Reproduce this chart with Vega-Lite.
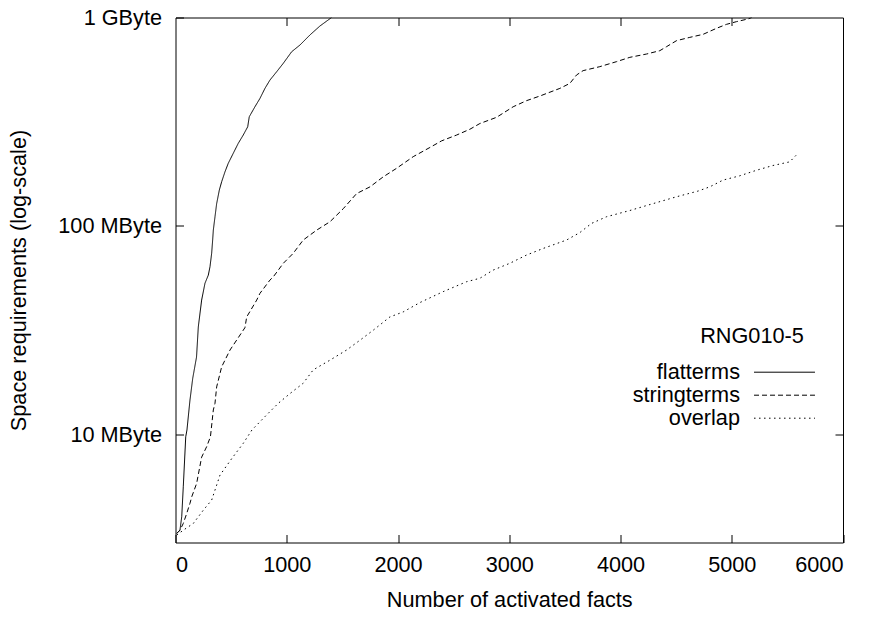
{
  "$schema": "https://vega.github.io/schema/vega-lite/v6.json",
  "width": 667.5,
  "height": 525,
  "autosize": {"type": "none"},
  "padding": {"left": 175.5, "top": 17.5, "right": 31, "bottom": 74.5},
  "background": "white",
  "config": {
    "view": {"stroke": "black", "strokeWidth": 1},
    "font": "Liberation Sans",
    "axis": {
      "domain": false, "grid": false, "tickColor": "black", "tickSize": -8, "tickWidth": 1,
      "labelFont": "Liberation Sans", "labelFontSize": 21.7, "labelColor": "black",
      "titleFont": "Liberation Sans", "titleFontSize": 21.7, "titleColor": "black", "titleFontWeight": "normal"
    }
  },
  "data": {"values": [
    {"facts": 11, "mb": 3.35, "series": "flatterms"},
    {"facts": 40, "mb": 3.47, "series": "flatterms"},
    {"facts": 56, "mb": 4.03, "series": "flatterms"},
    {"facts": 70, "mb": 5.61, "series": "flatterms"},
    {"facts": 92, "mb": 9.74, "series": "flatterms"},
    {"facts": 103, "mb": 10.5, "series": "flatterms"},
    {"facts": 130, "mb": 14.6, "series": "flatterms"},
    {"facts": 155, "mb": 18.6, "series": "flatterms"},
    {"facts": 189, "mb": 23.5, "series": "flatterms"},
    {"facts": 205, "mb": 32.8, "series": "flatterms"},
    {"facts": 235, "mb": 44.1, "series": "flatterms"},
    {"facts": 265, "mb": 53.1, "series": "flatterms"},
    {"facts": 295, "mb": 58.1, "series": "flatterms"},
    {"facts": 310, "mb": 63.7, "series": "flatterms"},
    {"facts": 325, "mb": 73.9, "series": "flatterms"},
    {"facts": 334, "mb": 85.6, "series": "flatterms"},
    {"facts": 340, "mb": 95.5, "series": "flatterms"},
    {"facts": 355, "mb": 110.7, "series": "flatterms"},
    {"facts": 370, "mb": 128, "series": "flatterms"},
    {"facts": 394, "mb": 148.7, "series": "flatterms"},
    {"facts": 415, "mb": 163, "series": "flatterms"},
    {"facts": 445, "mb": 182, "series": "flatterms"},
    {"facts": 474, "mb": 199.6, "series": "flatterms"},
    {"facts": 519, "mb": 223, "series": "flatterms"},
    {"facts": 564, "mb": 249, "series": "flatterms"},
    {"facts": 609, "mb": 273, "series": "flatterms"},
    {"facts": 649, "mb": 299, "series": "flatterms"},
    {"facts": 663, "mb": 334, "series": "flatterms"},
    {"facts": 714, "mb": 373, "series": "flatterms"},
    {"facts": 759, "mb": 409, "series": "flatterms"},
    {"facts": 804, "mb": 457, "series": "flatterms"},
    {"facts": 849, "mb": 501, "series": "flatterms"},
    {"facts": 909, "mb": 549, "series": "flatterms"},
    {"facts": 969, "mb": 603, "series": "flatterms"},
    {"facts": 1044, "mb": 685, "series": "flatterms"},
    {"facts": 1119, "mb": 738, "series": "flatterms"},
    {"facts": 1208, "mb": 824, "series": "flatterms"},
    {"facts": 1298, "mb": 910, "series": "flatterms"},
    {"facts": 1403, "mb": 1000, "series": "flatterms"},

    {"facts": 11, "mb": 3.35, "series": "stringterms"},
    {"facts": 40, "mb": 3.47, "series": "stringterms"},
    {"facts": 70, "mb": 3.74, "series": "stringterms"},
    {"facts": 101, "mb": 4.18, "series": "stringterms"},
    {"facts": 130, "mb": 4.67, "series": "stringterms"},
    {"facts": 146, "mb": 5.02, "series": "stringterms"},
    {"facts": 190, "mb": 5.82, "series": "stringterms"},
    {"facts": 235, "mb": 7.78, "series": "stringterms"},
    {"facts": 280, "mb": 8.73, "series": "stringterms"},
    {"facts": 314, "mb": 9.74, "series": "stringterms"},
    {"facts": 340, "mb": 13.1, "series": "stringterms"},
    {"facts": 355, "mb": 14.1, "series": "stringterms"},
    {"facts": 370, "mb": 16.9, "series": "stringterms"},
    {"facts": 415, "mb": 21.1, "series": "stringterms"},
    {"facts": 490, "mb": 25.4, "series": "stringterms"},
    {"facts": 624, "mb": 32.5, "series": "stringterms"},
    {"facts": 640, "mb": 36.6, "series": "stringterms"},
    {"facts": 730, "mb": 44.1, "series": "stringterms"},
    {"facts": 759, "mb": 47.5, "series": "stringterms"},
    {"facts": 849, "mb": 55.0, "series": "stringterms"},
    {"facts": 879, "mb": 57.0, "series": "stringterms"},
    {"facts": 924, "mb": 61.4, "series": "stringterms"},
    {"facts": 969, "mb": 66.2, "series": "stringterms"},
    {"facts": 1058, "mb": 73.9, "series": "stringterms"},
    {"facts": 1148, "mb": 85.6, "series": "stringterms"},
    {"facts": 1269, "mb": 95.5, "series": "stringterms"},
    {"facts": 1388, "mb": 104.7, "series": "stringterms"},
    {"facts": 1508, "mb": 121, "series": "stringterms"},
    {"facts": 1628, "mb": 143, "series": "stringterms"},
    {"facts": 1748, "mb": 154, "series": "stringterms"},
    {"facts": 1867, "mb": 172, "series": "stringterms"},
    {"facts": 1987, "mb": 189, "series": "stringterms"},
    {"facts": 2137, "mb": 215, "series": "stringterms"},
    {"facts": 2287, "mb": 238, "series": "stringterms"},
    {"facts": 2392, "mb": 256, "series": "stringterms"},
    {"facts": 2527, "mb": 273, "series": "stringterms"},
    {"facts": 2646, "mb": 291, "series": "stringterms"},
    {"facts": 2736, "mb": 310, "series": "stringterms"},
    {"facts": 2886, "mb": 332, "series": "stringterms"},
    {"facts": 3035, "mb": 373, "series": "stringterms"},
    {"facts": 3155, "mb": 399, "series": "stringterms"},
    {"facts": 3275, "mb": 420, "series": "stringterms"},
    {"facts": 3455, "mb": 457, "series": "stringterms"},
    {"facts": 3545, "mb": 483, "series": "stringterms"},
    {"facts": 3605, "mb": 530, "series": "stringterms"},
    {"facts": 3664, "mb": 556, "series": "stringterms"},
    {"facts": 3814, "mb": 581, "series": "stringterms"},
    {"facts": 3964, "mb": 614, "series": "stringterms"},
    {"facts": 4084, "mb": 644, "series": "stringterms"},
    {"facts": 4234, "mb": 668, "series": "stringterms"},
    {"facts": 4353, "mb": 693, "series": "stringterms"},
    {"facts": 4413, "mb": 724, "series": "stringterms"},
    {"facts": 4503, "mb": 774, "series": "stringterms"},
    {"facts": 4623, "mb": 803, "series": "stringterms"},
    {"facts": 4742, "mb": 830, "series": "stringterms"},
    {"facts": 4862, "mb": 887, "series": "stringterms"},
    {"facts": 4952, "mb": 927, "series": "stringterms"},
    {"facts": 5042, "mb": 955, "series": "stringterms"},
    {"facts": 5146, "mb": 984, "series": "stringterms"},
    {"facts": 5180, "mb": 1000, "series": "stringterms"},

    {"facts": 11, "mb": 3.29, "series": "overlap"},
    {"facts": 70, "mb": 3.47, "series": "overlap"},
    {"facts": 160, "mb": 3.74, "series": "overlap"},
    {"facts": 250, "mb": 4.33, "series": "overlap"},
    {"facts": 325, "mb": 4.84, "series": "overlap"},
    {"facts": 400, "mb": 6.38, "series": "overlap"},
    {"facts": 508, "mb": 7.69, "series": "overlap"},
    {"facts": 609, "mb": 9.06, "series": "overlap"},
    {"facts": 687, "mb": 10.5, "series": "overlap"},
    {"facts": 819, "mb": 12.4, "series": "overlap"},
    {"facts": 924, "mb": 14.1, "series": "overlap"},
    {"facts": 1029, "mb": 15.7, "series": "overlap"},
    {"facts": 1148, "mb": 17.6, "series": "overlap"},
    {"facts": 1238, "mb": 20.4, "series": "overlap"},
    {"facts": 1388, "mb": 22.7, "series": "overlap"},
    {"facts": 1538, "mb": 25.4, "series": "overlap"},
    {"facts": 1658, "mb": 28.3, "series": "overlap"},
    {"facts": 1777, "mb": 31.6, "series": "overlap"},
    {"facts": 1927, "mb": 36.6, "series": "overlap"},
    {"facts": 2047, "mb": 38.7, "series": "overlap"},
    {"facts": 2197, "mb": 42.9, "series": "overlap"},
    {"facts": 2406, "mb": 48.4, "series": "overlap"},
    {"facts": 2616, "mb": 54.0, "series": "overlap"},
    {"facts": 2736, "mb": 56.1, "series": "overlap"},
    {"facts": 2855, "mb": 61.4, "series": "overlap"},
    {"facts": 3005, "mb": 66.2, "series": "overlap"},
    {"facts": 3155, "mb": 72.5, "series": "overlap"},
    {"facts": 3305, "mb": 78.0, "series": "overlap"},
    {"facts": 3515, "mb": 85.6, "series": "overlap"},
    {"facts": 3634, "mb": 92.9, "series": "overlap"},
    {"facts": 3739, "mb": 102.8, "series": "overlap"},
    {"facts": 3874, "mb": 110.7, "series": "overlap"},
    {"facts": 4084, "mb": 118.6, "series": "overlap"},
    {"facts": 4293, "mb": 128, "series": "overlap"},
    {"facts": 4503, "mb": 138, "series": "overlap"},
    {"facts": 4697, "mb": 147, "series": "overlap"},
    {"facts": 4802, "mb": 154, "series": "overlap"},
    {"facts": 4922, "mb": 166, "series": "overlap"},
    {"facts": 5072, "mb": 174, "series": "overlap"},
    {"facts": 5222, "mb": 185, "series": "overlap"},
    {"facts": 5371, "mb": 195, "series": "overlap"},
    {"facts": 5521, "mb": 203, "series": "overlap"},
    {"facts": 5581, "mb": 219, "series": "overlap"}
  ]},
  "layer": [
    {
      "mark": {"type": "line", "color": "black", "strokeWidth": 1, "clip": true},
      "encoding": {
        "x": {"field": "facts", "type": "quantitative",
              "scale": {"domain": [0, 6000], "nice": false},
              "axis": {"orient": "bottom", "values": [0, 1000, 2000, 3000, 4000, 5000, 6000], "format": "d",
                       "labelPadding": 20, "title": "Number of activated facts", "titlePadding": 13}},
        "y": {"field": "mb", "type": "quantitative",
              "scale": {"type": "log", "domain": [3.03, 1000], "nice": false},
              "axis": {"orient": "left", "values": [10, 100, 1000],
                       "labelExpr": "datum.value >= 999 ? '1 GByte' : format(datum.value, 'd') + ' MByte'",
                       "labelPadding": 22, "title": "Space requirements (log-scale)", "titlePadding": 27}},
        "strokeDash": {"field": "series", "type": "nominal",
              "scale": {"domain": ["flatterms", "stringterms", "overlap"], "range": [[1, 0], [5, 3], [1.5, 3.5]]},
              "legend": {"orient": "none", "legendX": 511.5, "legendY": 308, "title": "RNG010-5",
                         "titleFont": "Liberation Sans", "titleFontSize": 21.7, "titleFontWeight": "normal", "titleColor": "black",
                         "titleAnchor": "middle", "titlePadding": 14,
                         "labelFont": "Liberation Sans", "labelFontSize": 21.7, "labelColor": "black",
                         "labelAlign": "right", "labelOffset": -55.5,
                         "symbolType": "M-3,0H3", "symbolSize": 413, "symbolOffset": 86.5, "symbolStrokeWidth": 1, "symbolStrokeColor": "black",
                         "symbolFillColor": "transparent", "rowPadding": -2}}
      }
    },
    {
      "mark": {"type": "line", "color": "black", "strokeOpacity": 0, "clip": true},
      "encoding": {
        "x": {"field": "facts", "type": "quantitative",
              "axis": {"orient": "top", "values": [1000, 2000, 3000, 4000, 5000], "labels": false, "title": null}},
        "y": {"field": "mb", "type": "quantitative",
              "axis": {"orient": "right", "values": [10, 100], "labels": false, "title": null}},
        "detail": {"field": "series"}
      }
    }
  ],
  "resolve": {"axis": {"x": "independent", "y": "independent"}}
}
